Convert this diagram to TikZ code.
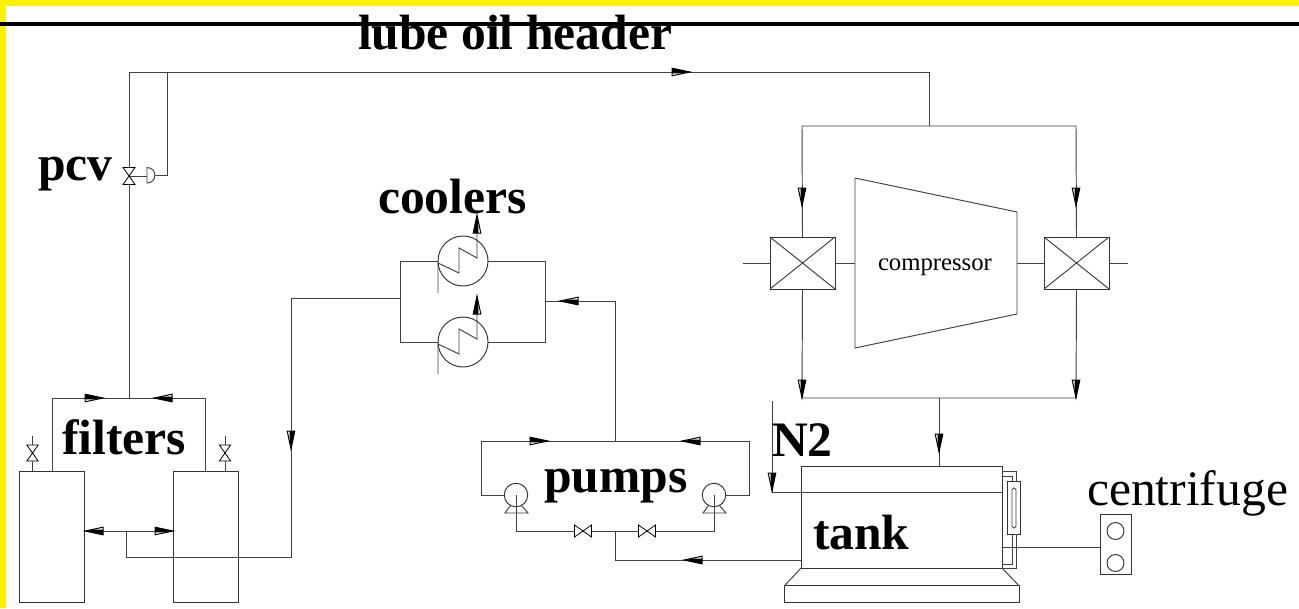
\documentclass[tikz,border=0pt]{standalone}
\usepackage{fontspec}
\setmainfont{Liberation Serif}
\begin{document}
\begin{tikzpicture}[x=1pt,y=-1pt,
  pipe/.style={line width=0.95pt,draw=black!75,line join=miter},
  equip/.style={draw=black!80,line width=0.95pt,fill=white,rectangle,inner sep=0pt,outer sep=0pt},
  lab/.style={font=\fontsize{49.6}{50}\selectfont\bfseries,anchor=base west,inner sep=0pt,outer sep=0pt,text=black},
  thinlab/.style={anchor=base west,inner sep=0pt,outer sep=0pt,text=black},
  flowpic/.pic={
    \fill[white,draw=black,line width=1pt] (-18,-3.8) -- (-18,3.8) -- (0,0) -- cycle;
    \fill[black] (-18,-4) -- (-18,1.4) -- (-10,1.4) -- (0,0) -- cycle;
  },
  valvepic/.pic={
    \draw[fill=white,draw=black,line width=0.8pt] (-8.5,-6) -- (8.5,6) -- (8.5,-6) -- (-8.5,6) -- cycle;
  },
]
\useasboundingbox (0,0) rectangle (1299,608);
\fill[white] (0,0) rectangle (1299,608);
\fill[yellow] (0,0) rectangle (1299,6);
\fill[yellow] (0,0) rectangle (6,608);
\fill[black] (0,22) rectangle (1299,26);

% ---------- junctions
\coordinate (hdrW) at (129,72);
\coordinate (hdrS) at (167,72);
\coordinate (hdrE) at (929,72);
\coordinate (pcvTop) at (129,167);
\coordinate (pcvBot) at (129,185);
\coordinate (pcvMid) at (129,176);
\coordinate (actFlat) at (147,176);
\coordinate (actOut) at (155,175);
\coordinate (sigCorner) at (167,175);
\coordinate (fHdrM) at (129,398);
\coordinate (fHdrW) at (52,398);
\coordinate (fHdrE) at (205,398);
\coordinate (fInW) at (52,471);
\coordinate (fInE) at (205,471);
\coordinate (ventLb) at (32.5,471);
\coordinate (ventLt) at (32.5,436);
\coordinate (ventRb) at (225,471);
\coordinate (ventRt) at (225,436);
\coordinate (crossW) at (84.5,531);
\coordinate (crossE) at (173,531);
\coordinate (crossM) at (126,531);
\coordinate (crossLow) at (126,557);
\coordinate (feedSE) at (291,557);
\coordinate (feedNE) at (291,298);
\coordinate (coolW) at (400,298);
\coordinate (coolWt) at (400,261);
\coordinate (coolWb) at (400,342);
\coordinate (coolEt) at (545,261);
\coordinate (coolEb) at (545,342);
\coordinate (coolE) at (545,301);
\coordinate (riserT) at (615,301);
\coordinate (riserB) at (615,441);
\coordinate (pHdrW) at (481,441);
\coordinate (pHdrE) at (749,441);
\coordinate (pDropW) at (481,495);
\coordinate (pDropE) at (749,495);
\coordinate (suctW) at (516,531);
\coordinate (suctE) at (714,531);
\coordinate (suctM) at (615,531);
\coordinate (suctLow) at (615,560);
\coordinate (tankOut) at (801,560);
\coordinate (splitW) at (802,126);
\coordinate (splitE) at (1076,126);
\coordinate (splitM) at (929,126);
\coordinate (colW) at (802,398);
\coordinate (colE) at (1076,398);
\coordinate (colM) at (939,398);
\coordinate (tankIn) at (939,466);
\coordinate (brgLstub) at (743,263);
\coordinate (brgRstub) at (1128,263);
\coordinate (compWm) at (855,263);
\coordinate (compEm) at (1017,263);
\coordinate (n2Top) at (772,401);
\coordinate (n2Low) at (772,492);
\coordinate (n2End) at (1002,492);
\coordinate (cfgOut) at (1002,547);

% ---------- equipment
\node[equip,minimum width=65pt,minimum height=131pt] (filterL) at (52,536.5) {};
\node[equip,minimum width=65pt,minimum height=131pt] (filterR) at (205.5,536.5) {};
\node[equip,minimum width=65pt,minimum height=52pt] (brgL) at (802.5,263) {};
\node[equip,minimum width=65pt,minimum height=52pt] (brgR) at (1076.5,263) {};
\node[equip,circle,minimum size=50pt] (coolerT) at (463,261) {};
\node[equip,circle,minimum size=50pt] (coolerB) at (463,342) {};
\node[equip,circle,minimum size=23.5pt] (pumpL) at (516,495) {};
\node[equip,circle,minimum size=23.5pt] (pumpR) at (714,495) {};
\node[equip,minimum width=201pt,minimum height=102pt] (tank) at (901.5,517) {};
\node[equip,minimum width=234.5pt,minimum height=16.5pt] (tankBase) at (901.75,594) {};
\node[equip,minimum width=13pt,minimum height=53pt] (gauge) at (1013.5,507.5) {};
\node[equip,minimum width=31pt,minimum height=60pt] (centBox) at (1115.5,544) {};
\node[equip,circle,minimum size=17pt] (centA) at (1115.5,531) {};
\node[equip,circle,minimum size=17pt] (centB) at (1115.5,563) {};

% ---------- oil piping
\draw[pipe] (pcvTop) -- (hdrW) -- (hdrE) -- (splitM);
\draw[pipe] (hdrS) -- (sigCorner) -- (actOut);
\draw[pipe] (pcvMid) -- (actFlat);
\draw[pipe] (pcvBot) -- (fHdrM);
\draw[pipe] (fInW) -- (fHdrW) -- (fHdrE) -- (fInE);
\draw[pipe] (ventLb) -- (ventLt);
\draw[pipe] (ventRb) -- (ventRt);
\draw[pipe] (crossW) -- (crossE);
\draw[pipe] (crossM) -- (crossLow) -- (feedSE) -- (feedNE) -- (coolW);
\draw[pipe] (coolerT.east) -- (coolEt) -- (coolEb) -- (coolerB.east);
\draw[pipe] (coolerT.west) -- (coolWt) -- (coolWb) -- (coolerB.west);
\draw[pipe] (coolE) -- (riserT) -- (riserB);
\draw[pipe] (pumpL.west) -- (pDropW) -- (pHdrW) -- (pHdrE) -- (pDropE) -- (pumpR.east);
\draw[pipe] (pumpL.center) -- (suctW) -- (suctE) -- (pumpR.center);
\draw[pipe] (suctM) -- (suctLow) -- (tankOut);
\draw[pipe] (brgL.north) -- (splitW) -- (splitE) -- (brgR.north);
\draw[pipe] (brgL.south) -- (colW) -- (colE) -- (brgR.south);
\draw[pipe] (colM) -- (tankIn);
\draw[pipe] (brgL.east) -- (compWm);
\draw[pipe] (brgL.west) -- (brgLstub);
\draw[pipe] (compEm) -- (brgR.west);
\draw[pipe] (brgR.east) -- (brgRstub);
\draw[pipe] (n2Top) -- (n2Low) -- (n2End);
\draw[pipe] (cfgOut) -- (centBox.west |- cfgOut);

% brg crosses
\draw[pipe] (brgL.north west) -- (brgL.south east) (brgL.north east) -- (brgL.south west);
\draw[pipe] (brgR.north west) -- (brgR.south east) (brgR.north east) -- (brgR.south west);

% compressor
\draw[pipe,fill=white] (855,178) -- (1017,212) -- (1017,314) -- (855,348) -- cycle;
\node[thinlab,font=\fontsize{24.7}{25}\selectfont] (complab) at (878,270) {compressor};

% cooler zig-zags
\draw[pipe] (438,293) -- (438,263) -- (459,273) -- (459,248) -- (477,258) -- (477,232);
\draw[pipe] (438,374) -- (438,344) -- (459,354) -- (459,329) -- (477,339) -- (477,313);

% pump stands
\draw[pipe] (510.5,505.5) -- (505,513) -- (528,513) -- (521.5,505.5);
\draw[pipe] (708.5,505.5) -- (703,513) -- (726,513) -- (719.5,505.5);

% tank stand
\draw[pipe] (tank.south west) -- (tankBase.north west);
\draw[pipe] (tank.south east) -- (tankBase.north east);

% gauge
\draw[pipe] (1002,471) -- (1016,471) -- (1016,481);
\draw[pipe] (1002,476) -- (1012,476) -- (1012,481);
\draw[pipe] (1012,534) -- (1012,564) -- (1002,564);
\draw[pipe] (1016,534) -- (1016,568) -- (1002,568);
\draw[pipe,rounded corners=1.8pt] (1012,488) rectangle (1016,528);

% actuator
\draw[pipe,fill=white] (147,167.5) .. controls (157.5,167.5) and (157.5,183) .. (147,183) -- cycle;

% valves
\pic[rotate=90] at (pcvMid) {valvepic};
\pic[rotate=90,scale=0.95] at (32.5,453) {valvepic};
\pic[rotate=90,scale=0.95] at (225,453) {valvepic};
\pic at (583,531) {valvepic};
\pic at (647,531) {valvepic};

% flow arrows
\pic at (690,72) {flowpic};
\pic at (103,398) {flowpic};
\pic[rotate=180] at (154,398) {flowpic};
\pic[rotate=180] at (85,531) {flowpic};
\pic at (173,531) {flowpic};
\pic[rotate=270] at (291,449) {flowpic};
\pic[rotate=90] at (477,215) {flowpic};
\pic[rotate=90] at (477,296) {flowpic};
\pic[rotate=180] at (560,301) {flowpic};
\pic at (548,441) {flowpic};
\pic[rotate=180] at (682,441) {flowpic};
\pic[rotate=180] at (684,560) {flowpic};
\pic[rotate=270] at (802,206) {flowpic};
\pic[rotate=270] at (1076,206) {flowpic};
\pic[rotate=270] at (802,398) {flowpic};
\pic[rotate=270] at (1076,398) {flowpic};
\pic[rotate=270] at (939,452) {flowpic};
\pic[rotate=270] at (772,491) {flowpic};

% labels
\node[lab] (lLube) at (358,49) {lube oil header};
\node[lab] (lPcv) at (38,180) {pcv};
\node[lab] (lFilters) at (62,454) {filters};
\node[lab] (lCoolers) at (378,213) {coolers};
\node[lab] (lPumps) at (544,492) {pumps};
\node[lab] (lN2) at (772,456) {N2};
\node[lab] (lTank) at (813,549) {tank};
\node[thinlab,font=\fontsize{49.6}{50}\selectfont] (lCent) at (1087,505) {centrifuge};
\end{tikzpicture}
\end{document}
